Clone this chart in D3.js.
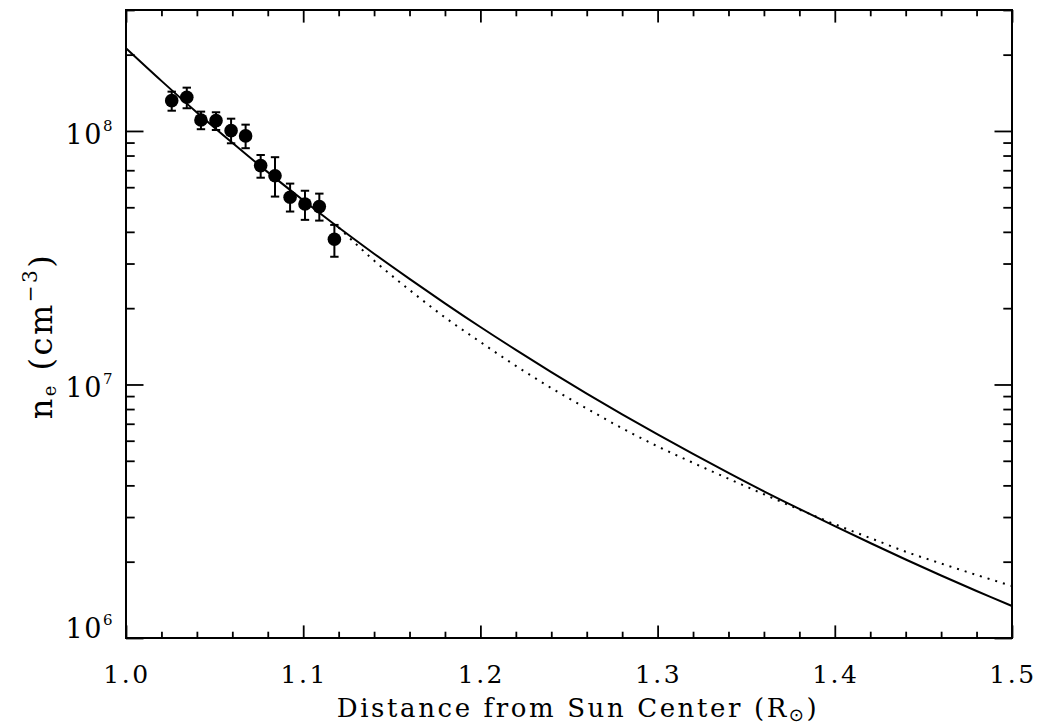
<!DOCTYPE html>
<html>
<head>
<meta charset="utf-8">
<script src="https://cdn.jsdelivr.net/npm/d3@7"></script>
<style>
  html, body { margin: 0; padding: 0; background: #fff; }
  svg { display: block; }
  text { font-family: "DejaVu Serif", serif; fill: #000; }
</style>
</head>
<body>
<svg id="chart" width="1039" height="727"></svg>
<script>
// ---------------- data ----------------
const xTickValues = [1.0, 1.1, 1.2, 1.3, 1.4, 1.5];
const xTickLabels = ["1.0", "1.1", "1.2", "1.3", "1.4", "1.5"];
const yTickValues = [1e6, 1e7, 1e8];
const yTickExponents = ["6", "7", "8"];

// observed densities (filled circles with error bars)
const obsR    = [1.0258, 1.0343, 1.0423, 1.0508, 1.0593, 1.0675, 1.0760, 1.0841, 1.0926, 1.1010, 1.1091, 1.1176];
const obsNe   = [1.317e8, 1.358e8, 1.105e8, 1.098e8, 1.003e8, 9.56e7, 7.30e7, 6.66e7, 5.48e7, 5.15e7, 5.03e7, 3.74e7];
const obsLow  = [1.202e8, 1.229e8, 1.016e8, 1.009e8, 8.94e7, 8.55e7, 6.54e7, 5.51e7, 4.81e7, 4.46e7, 4.43e7, 3.19e7];
const obsHigh = [1.429e8, 1.482e8, 1.192e8, 1.185e8, 1.118e8, 1.059e8, 8.04e7, 7.88e7, 6.20e7, 5.81e7, 5.66e7, 4.26e7];

// solid model curve
const modelR  = [1.00, 1.02, 1.04, 1.06, 1.08, 1.10, 1.12, 1.14, 1.16, 1.18, 1.20, 1.22, 1.24,
                 1.26, 1.28, 1.30, 1.32, 1.34, 1.36, 1.38, 1.40, 1.42, 1.44, 1.46, 1.48, 1.50];
const modelNe = [2.12e8, 1.576e8, 1.183e8, 8.98e7, 6.88e7, 5.33e7, 4.16e7, 3.28e7, 2.61e7, 2.09e7, 1.685e7, 1.369e7, 1.119e7,
                 9.21e6, 7.63e6, 6.36e6, 5.32e6, 4.48e6, 3.79e6, 3.23e6, 2.76e6, 2.37e6, 2.04e6, 1.764e6, 1.533e6, 1.337e6];

// dotted curve
const dotR  = [1.12, 1.14, 1.16, 1.18, 1.20, 1.22, 1.24, 1.26, 1.28, 1.30, 1.32, 1.34, 1.36,
               1.38, 1.40, 1.42, 1.44, 1.46, 1.48, 1.50];
const dotNe = [4.16e7, 3.08e7, 2.36e7, 1.839e7, 1.470e7, 1.184e7, 9.68e6, 8.04e6, 6.72e6, 5.70e6, 4.91e6, 4.25e6, 3.69e6,
               3.21e6, 2.81e6, 2.48e6, 2.19e6, 1.967e6, 1.773e6, 1.603e6];

// ---------------- layout ----------------
const L = 126, R = 1012, T = 10, B = 638;
const svg = d3.select("#chart");

const x = d3.scaleLinear().domain([1.0, 1.5]).range([L, R]);
const y = d3.scaleLog().domain([1e6, 3e8]).range([B, T]);

const xMajorLen = 12.6, xMinorLen = 6.3;
const yMajorLen = 17.5, yMinorLen = 8.7;

const xMinor = d3.range(0, 26).map(i => 1.0 + i * 0.02).filter(v => !xTickValues.some(t => Math.abs(t - v) < 1e-9));
const yMinor = [];
[1e6, 1e7, 1e8].forEach(d => { for (let k = 2; k <= 9; k++) { const v = d * k; if (v <= 3e8 + 1) yMinor.push(v); } });

function styleAxis(g) {
  g.select(".domain").remove();
  g.selectAll(".tick line").attr("stroke", "#000").attr("stroke-width", 1.8);
  g.selectAll(".tick text").remove();
}

// bottom & top axes (ticks inward)
svg.append("g").attr("transform", `translate(0,${B})`)
  .call(d3.axisBottom(x).tickValues(xTickValues).tickSize(-xMajorLen).tickSizeOuter(0)).call(styleAxis);
svg.append("g").attr("transform", `translate(0,${B})`)
  .call(d3.axisBottom(x).tickValues(xMinor).tickSize(-xMinorLen).tickSizeOuter(0)).call(styleAxis);
svg.append("g").attr("transform", `translate(0,${T})`)
  .call(d3.axisTop(x).tickValues(xTickValues).tickSize(-xMajorLen).tickSizeOuter(0)).call(styleAxis);
svg.append("g").attr("transform", `translate(0,${T})`)
  .call(d3.axisTop(x).tickValues(xMinor).tickSize(-xMinorLen).tickSizeOuter(0)).call(styleAxis);

// left & right axes
svg.append("g").attr("transform", `translate(${L},0)`)
  .call(d3.axisLeft(y).tickValues(yTickValues).tickSize(-yMajorLen).tickSizeOuter(0)).call(styleAxis);
svg.append("g").attr("transform", `translate(${L},0)`)
  .call(d3.axisLeft(y).tickValues(yMinor).tickSize(-yMinorLen).tickSizeOuter(0)).call(styleAxis);
svg.append("g").attr("transform", `translate(${R},0)`)
  .call(d3.axisRight(y).tickValues(yTickValues).tickSize(-yMajorLen).tickSizeOuter(0)).call(styleAxis);
svg.append("g").attr("transform", `translate(${R},0)`)
  .call(d3.axisRight(y).tickValues(yMinor).tickSize(-yMinorLen).tickSizeOuter(0)).call(styleAxis);

// frame
svg.append("rect").attr("x", L).attr("y", T).attr("width", R - L).attr("height", B - T)
  .attr("fill", "none").attr("stroke", "#000").attr("stroke-width", 2);

// x tick labels
svg.append("g").selectAll("text").data(xTickValues).join("text")
  .attr("x", d => x(d) + 1).attr("y", 683)
  .attr("text-anchor", "middle").attr("font-size", 25).attr("letter-spacing", 2.5)
  .text((d, i) => xTickLabels[i]);

// y tick labels (10^n)
const yl = svg.append("g").selectAll("text").data(yTickValues).join("text")
  .attr("x", 114).attr("y", d => Math.min(y(d) + 13, B))
  .attr("text-anchor", "end").attr("font-size", 27).attr("letter-spacing", 1.5);
yl.append("tspan").text("10");
yl.append("tspan").attr("font-size", 15).attr("dy", -13).text((d, i) => yTickExponents[i]);

// axis titles
const xt = svg.append("text").attr("x", 578).attr("y", 717)
  .attr("text-anchor", "middle").attr("font-size", 26).attr("letter-spacing", 2.6);
xt.append("tspan").text("Distance from Sun Center (R");
xt.append("tspan").attr("font-size", 18).attr("dy", 4).attr("font-family", "DejaVu Sans").text("\u2299");
xt.append("tspan").attr("dy", -4).text(")");

const yt = svg.append("text").attr("transform", "translate(52,336) rotate(-90)")
  .attr("text-anchor", "middle").attr("font-size", 32).attr("letter-spacing", 2.5);
yt.append("tspan").text("n");
yt.append("tspan").attr("font-size", 18).attr("dy", 4).text("e");
yt.append("tspan").attr("dy", -4).text(" (cm");
yt.append("tspan").attr("font-size", 20).attr("dy", -15).text("\u22123");
yt.append("tspan").attr("dy", 15).text(")");

// curves
const line = d3.line().x(d => x(d[0])).y(d => y(d[1])).curve(d3.curveCatmullRom.alpha(0.5));
const plot = svg.append("g");
plot.append("path").datum(modelR.map((r, i) => [r, modelNe[i]]))
  .attr("d", line).attr("fill", "none").attr("stroke", "#000").attr("stroke-width", 2);
plot.append("path").datum(dotR.map((r, i) => [r, dotNe[i]]))
  .attr("d", line).attr("fill", "none").attr("stroke", "#000").attr("stroke-width", 2)
  .attr("stroke-dasharray", "2,6");

// error bars
const obs = obsR.map((r, i) => ({ r, n: obsNe[i], lo: obsLow[i], hi: obsHigh[i] }));
const eb = plot.append("g").attr("stroke", "#000").attr("stroke-width", 2);
eb.selectAll("line.v").data(obs).join("line").attr("class", "v")
  .attr("x1", d => x(d.r)).attr("x2", d => x(d.r)).attr("y1", d => y(d.lo)).attr("y2", d => y(d.hi));
eb.selectAll("line.t").data(obs).join("line").attr("class", "t")
  .attr("x1", d => x(d.r) - 4.2).attr("x2", d => x(d.r) + 4.2).attr("y1", d => y(d.hi)).attr("y2", d => y(d.hi));
eb.selectAll("line.b").data(obs).join("line").attr("class", "b")
  .attr("x1", d => x(d.r) - 4.2).attr("x2", d => x(d.r) + 4.2).attr("y1", d => y(d.lo)).attr("y2", d => y(d.lo));
plot.append("g").selectAll("circle").data(obs).join("circle")
  .attr("cx", d => x(d.r)).attr("cy", d => y(d.n)).attr("r", 6.8).attr("fill", "#000");
</script>
</body>
</html>
